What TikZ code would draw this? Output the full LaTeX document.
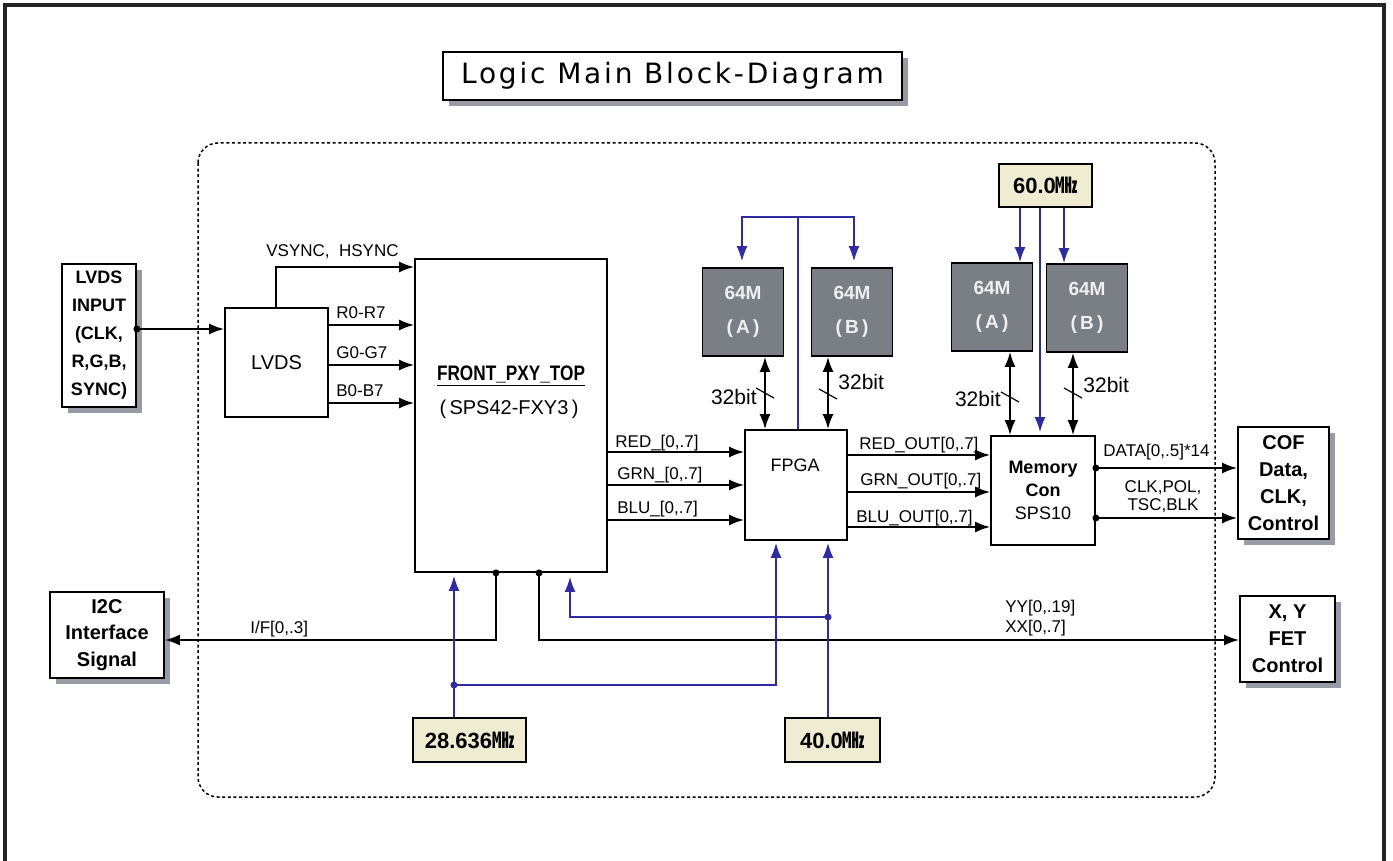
\documentclass[tikz,border=0pt]{standalone}
\usepackage{fontspec}
\setmainfont{Liberation Sans}
\newfontfamily\cjk{Noto Sans CJK KR}
\newfontfamily\titlefont[LetterSpace=10]{DejaVu Sans}
\usetikzlibrary{arrows.meta,shadows,calc}
\definecolor{wire}{RGB}{45,45,160}
\definecolor{memgray}{RGB}{122,126,133}
\definecolor{memtext}{RGB}{240,240,240}
\definecolor{clkfill}{RGB}{240,236,210}
\definecolor{shadowgray}{RGB}{150,155,165}
\definecolor{framecol}{RGB}{35,35,35}
\newcommand{\myfs}[2]{\fontsize{#1}{#2}\selectfont}
\begin{document}
\begin{tikzpicture}[x=0.5pt,y=-0.5pt,
  box/.style={draw=black, line width=0.9pt, fill=white, inner sep=0pt, align=center},
  shad/.style={drop shadow={shadow xshift=3pt, shadow yshift=-3pt, fill=shadowgray, opacity=1}},
  memst/.style={box, fill=memgray, text=memtext, minimum width=40.5pt, minimum height=44pt, font=\bfseries\myfs{9.5}{17}},
  clkst/.style={box, fill=clkfill, minimum height=22pt, font=\bfseries\myfs{11}{13}},
  lab/.style={font=\myfs{8.5}{10}, inner sep=0pt},
  bitlab/.style={font=\myfs{10.5}{12}, inner sep=0pt},
  tip/.tip={Latex[length=7.5pt,width=5.5pt]},
  arr/.style={line width=0.9pt, -tip},
  dbl/.style={line width=0.9pt, tip-tip},
  barr/.style={wire, line width=0.8pt, -tip},
  bline/.style={wire, line width=0.8pt},
  dot/.style={circle, fill, inner sep=0pt, minimum size=3.5pt},
  bdot/.style={circle, fill=wire, inner sep=0pt, minimum size=3.5pt},
  slash/.style={line width=0.6pt}
]
\useasboundingbox (0,0) rectangle (1393,861);
\fill[white] (0,0) rectangle (1393,861);

% outer frame and dotted container
\draw[framecol, line width=1.6pt] (5,861) -- (5,5) -- (1384,5) -- (1384,861);
\draw[dash pattern=on 1.5pt off 1.3pt, line width=0.75pt, rounded corners=10pt] (198,143) rectangle (1215,797);

% title
\node[box, shad, minimum width=229.5pt, minimum height=24pt, font=\titlefont\myfs{14}{16}] (title) at (672.5,76) {Logic Main Block-Diagram};

% boxes
\node[box, shad, minimum width=37pt, minimum height=71.5pt, font=\bfseries\myfs{9}{14}] (lvdsin) at (99,335.5) {LVDS\\INPUT\\(CLK,\\R,G,B,\\SYNC)};
\node[box, minimum width=51.5pt, minimum height=54.5pt, font=\myfs{10}{12}] (lvds) at (276.5,362.5) {LVDS};
\node[box, minimum width=96pt, minimum height=156.5pt] (front) at (511,415.5) {};
\node[inner sep=0pt, font=\bfseries\myfs{10.5}{12}] (ftitle) at (511,376) {\scalebox{0.82}[1]{\underline{FRONT\_PXY\_TOP}}};
\node[inner sep=0pt, font=\myfs{10}{12}] (fsub) at (509,409) {(\,SPS42-FXY3\,)};
\node[box, minimum width=51pt, minimum height=55pt] (fpga) at (796,485) {};
\node[inner sep=0pt, font=\myfs{9}{11}] (fpgatxt) at (795,465) {FPGA};
\node[memst] (memA1) at (743,312) {64M\\(\,A\,)};
\node[memst] (memB1) at (852,312) {64M\\(\,B\,)};
\node[memst] (memA2) at (992,307) {64M\\(\,A\,)};
\node[memst] (memB2) at (1087,308) {64M\\(\,B\,)};
\node[clkst, minimum width=46.5pt, minimum height=21.5pt] (clk60) at (1045.5,185.5) {60.0{\cjk ㎒}};
\node[box, minimum width=52pt, minimum height=54.5pt, font=\myfs{9}{11.5}] (memcon) at (1043,490.5) {\bfseries Memory\\\bfseries Con\\SPS10};
\node[box, shad, minimum width=45.5pt, minimum height=56pt, font=\bfseries\myfs{10}{13.5}] (cof) at (1283.5,483) {COF\\Data,\\CLK,\\Control};
\node[box, shad, minimum width=57pt, minimum height=43pt, font=\bfseries\myfs{10}{13.25}] (i2c) at (107,635) {I2C\\Interface\\Signal};
\node[box, shad, minimum width=47.5pt, minimum height=43pt, font=\bfseries\myfs{10}{13.5}] (xy) at (1287.5,639) {X,~Y\\FET\\Control};
\node[clkst, minimum width=56.5pt] (clk28) at (469.5,740) {28.636{\cjk ㎒}};
\node[clkst, minimum width=47.5pt] (clk40) at (832.5,740) {40.0{\cjk ㎒}};

% LVDS input
\node[dot] (d1) at (lvdsin.east |- 0,329) {};
\draw[arr] (d1.center) -- (lvds.west |- d1);
\draw[arr] (lvds.north -| 276,0) |- (front.west |- 0,267);
\node[lab, anchor=base west] (lvsync) at (266,257) {VSYNC,~~HSYNC};
\draw[arr] (lvds.east |- 0,325) -- (front.west |- 0,325);
\draw[arr] (lvds.east |- 0,365) -- (front.west |- 0,365);
\draw[arr] (lvds.east |- 0,403) -- (front.west |- 0,403);
\node[lab, anchor=base west] (lr) at (336,319) {R0-R7};
\node[lab, anchor=base west] (lg) at (336,358) {G0-G7};
\node[lab, anchor=base west] (lb) at (336,397) {B0-B7};

% front -> fpga
\draw[arr] (front.east |- 0,452) -- (fpga.west |- 0,452);
\draw[arr] (front.east |- 0,485) -- (fpga.west |- 0,485);
\draw[arr] (front.east |- 0,520) -- (fpga.west |- 0,520);
\node[lab, anchor=base west] (lred) at (615,447) {RED\_[0,.7]};
\node[lab, anchor=base west] (lgrn) at (617,479) {GRN\_[0,.7]};
\node[lab, anchor=base west] (lblu) at (617,513) {BLU\_[0,.7]};

% fpga -> memcon
\draw[arr] (fpga.east |- 0,455) -- (memcon.west |- 0,455);
\draw[arr] (fpga.east |- 0,492) -- (memcon.west |- 0,492);
\draw[arr] (fpga.east |- 0,527) -- (memcon.west |- 0,527);
\node[lab, anchor=base west] (lrout) at (859,450) {RED\_OUT[0,.7]};
\node[lab, anchor=base west] (lgout) at (860,485) {GRN\_OUT[0,.7]};
\node[lab, anchor=base west] (lbout) at (856,522) {BLU\_OUT[0,.7]};

% 32 bit buses
\draw[dbl] (765,0 |- memA1.south) -- (765,0 |- fpga.north);
\draw[dbl] (828,0 |- memB1.south) -- (828,0 |- fpga.north);
\draw[dbl] (1010,0 |- memA2.south) -- (1010,0 |- memcon.north);
\draw[dbl] (1073,0 |- memB2.south) -- (1073,0 |- memcon.north);
\draw[slash] (756,388) -- (774,398);
\draw[slash] (819,389) -- (837,399);
\draw[slash] (1001,392) -- (1019,402);
\draw[slash] (1064,388) -- (1082,398);
\node[bitlab, anchor=base east] (b1) at (757,405) {32bit};
\node[bitlab, anchor=base west] (b2) at (838,390) {32bit};
\node[bitlab, anchor=base east] (b3) at (1001,407) {32bit};
\node[bitlab, anchor=base west] (b4) at (1083,393) {32bit};

% memory clock from FPGA
\coordinate (bj) at (798,217);
\draw[bline, tip-tip, shorten <=3pt, shorten >=3pt]
  (742,0 |- memA1.north) -- (742,0 |- bj) -- (854,0 |- bj) -- (854,0 |- memB1.north);
\draw[bline] (bj) -- (bj |- fpga.north);

% 60 MHz
\draw[barr] (1020,0 |- clk60.south) -- (1020,0 |- memA2.north);
\draw[barr, shorten >=1.5pt] (1040,0 |- clk60.south) -- (1040,0 |- memcon.north);
\draw[barr] (1064,0 |- clk60.south) -- (1064,0 |- memB2.north);

% memcon -> COF
\node[dot] (d2) at (memcon.east |- 0,468) {};
\node[dot] (d3) at (memcon.east |- 0,518) {};
\draw[arr] (d2.center) -- (cof.west |- d2);
\draw[arr] (d3.center) -- (cof.west |- d3);
\node[lab, anchor=base west] (ldata) at (1103,456) {DATA[0,.5]*14};
\node[lab, anchor=base, align=center] (lclk) at (1163,492) {CLK,POL,};
\node[lab, anchor=base, align=center] (ltsc) at (1163,510) {TSC,BLK};

% front bottom outputs
\node[dot] (d4) at (496,0 |- front.south) {};
\node[dot] (d5) at (539,0 |- front.south) {};
\draw[arr] (d4.center) |- (i2c.east |- 0,640);
\draw[arr] (d5.center) |- (xy.west |- 0,640);
\node[lab, anchor=base west] (lif) at (250,633) {I/F[0,.3]};
\node[lab, anchor=base west] (lyy) at (1005,612) {YY[0,.19]};
\node[lab, anchor=base west] (lxx) at (1005,632) {XX[0,.7]};

% 28.636 MHz
\node[bdot] (j1) at (454,685) {};
\draw[barr, shorten >=1.5pt] (454,0 |- clk28.north) -- (454,0 |- front.south);
\draw[barr, shorten >=1pt] (j1.center) -| (776,0 |- fpga.south);

% 40.0 MHz
\node[bdot] (j2) at (828,617) {};
\draw[barr, shorten >=1pt] (828,0 |- clk40.north) -- (828,0 |- fpga.south);
\draw[barr, shorten >=2pt] (j2.center) -| (570,0 |- front.south);
\end{tikzpicture}
\end{document}
